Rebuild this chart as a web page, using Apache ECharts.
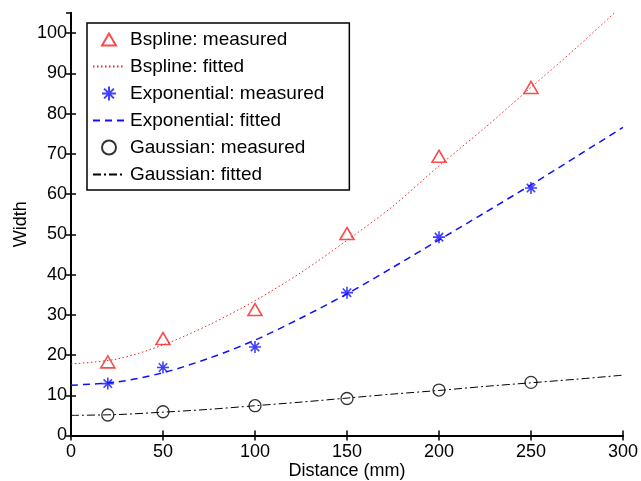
<!DOCTYPE html>
<html>
<head>
<meta charset="utf-8">
<script src="https://cdn.jsdelivr.net/npm/echarts@6/dist/echarts.min.js"></script>
<style>
html,body{margin:0;padding:0;background:#fff;}
#chart{width:641px;height:481px;}
</style>
</head>
<body>
<div id="chart"></div>
<script>
// ---- data ----
const xMeasured = [20, 50, 100, 150, 200, 250];
const bsplineMeasured = [18.3, 24.1, 31.3, 50.2, 69.4, 86.5];
const expMeasured = [12.9, 16.9, 22.0, 35.5, 49.3, 61.5];
const gaussMeasured = [5.1, 5.9, 7.4, 9.2, 11.3, 13.2];

const xFitted = [0, 25, 50, 75, 100, 125, 150, 175, 200, 225, 250, 275, 300];
const bsplineFitted = [17.8, 19.0, 22.5, 27.5, 33.5, 40.5, 48.5, 57.0, 67.0, 76.5, 86.5, 96.5, 107.0];
const expFitted = [12.5, 13.3, 15.6, 19.2, 23.7, 29.2, 35.2, 41.8, 48.6, 55.4, 62.3, 69.4, 76.6];
const gaussFitted = [5.0, 5.2, 5.8, 6.5, 7.4, 8.3, 9.3, 10.3, 11.2, 12.2, 13.1, 14.0, 15.0];

const seriesNames = ['Bspline: measured', 'Bspline: fitted', 'Exponential: measured',
  'Exponential: fitted', 'Gaussian: measured', 'Gaussian: fitted'];
const xTicks = [0, 50, 100, 150, 200, 250, 300];
const yTicks = [0, 10, 20, 30, 40, 50, 60, 70, 80, 90, 100];
const xTitle = 'Distance (mm)';
const yTitle = 'Width';

function pairs(xs, ys) { return xs.map((x, i) => [x, ys[i]]); }

const FONT = 'Liberation Sans, Arial, sans-serif';
const RED = '#f52020', BLUE = '#1010ff', BLACK = '#000000';
const asterisk = 'path://M0,-10L0,10M-10,0L10,0M-7,-7L7,7M-7,7L7,-7';
const triangle = 'path://M0,-1M0,13M0,0L7,12L-7,12Z';

const chart = echarts.init(document.getElementById('chart'), null, {renderer: 'canvas'});

const axisLineStyle = {color: '#000', width: 2};
const tickStyle = {show: true, inside: true, length: 5, lineStyle: {color: '#000', width: 1.5}};
chart.setOption({
  animation: false,
  backgroundColor: '#fff',
  textStyle: {fontFamily: FONT},
  grid: {left: 71, right: 18, top: 13, bottom: 45.5, containLabel: false, outerBoundsMode: 'none'},
  xAxis: [{
    type: 'value', min: xTicks[0], max: xTicks[xTicks.length - 1], interval: 50,
    position: 'bottom',
    name: xTitle, nameLocation: 'middle', nameGap: 27, nameMoveOverlap: false,
    nameTextStyle: {fontSize: 18, color: '#000', fontFamily: FONT},
    axisLine: {show: true, lineStyle: axisLineStyle},
    axisTick: tickStyle,
    axisLabel: {fontSize: 18, color: '#000', margin: 8, fontFamily: FONT},
    splitLine: {show: false}
  }, {
    type: 'value', min: xTicks[0], max: xTicks[xTicks.length - 1], interval: 50,
    position: 'top',
    axisLine: {show: true, lineStyle: axisLineStyle},
    axisTick: tickStyle,
    axisLabel: {show: false},
    splitLine: {show: false}
  }],
  yAxis: [{
    type: 'value', min: 0, max: 105, interval: 10,
    position: 'left',
    name: yTitle, nameLocation: 'middle', nameGap: 41, nameMoveOverlap: false,
    nameTextStyle: {fontSize: 18, color: '#000', fontFamily: FONT},
    axisLine: {show: true, lineStyle: axisLineStyle},
    axisTick: tickStyle,
    axisLabel: {fontSize: 18, color: '#000', margin: 4, fontFamily: FONT, showMaxLabel: false,
      formatter: v => (yTicks.indexOf(v) >= 0 ? String(v) : '')},
    splitLine: {show: false}
  }, {
    type: 'value', min: 0, max: 105, interval: 10,
    position: 'right',
    axisLine: {show: true, lineStyle: axisLineStyle},
    axisTick: tickStyle,
    axisLabel: {show: false},
    splitLine: {show: false}
  }],
  legend: {
    orient: 'vertical', left: 87, top: 23,
    data: [
      {name: seriesNames[0]},
      {name: seriesNames[1], itemStyle: {opacity: 0}},
      {name: seriesNames[2]},
      {name: seriesNames[3], itemStyle: {opacity: 0}},
      {name: seriesNames[4]},
      {name: seriesNames[5], itemStyle: {opacity: 0}}
    ],
    backgroundColor: '#fff', borderColor: '#000', borderWidth: 1.5,
    padding: [7, 25, 6, 5],
    itemWidth: 32, itemHeight: 14, itemGap: 8,
    textStyle: {fontSize: 19, color: '#000', fontFamily: FONT},
    z: 10
  },
  series: [
    {
      name: seriesNames[1], type: 'line', data: pairs(xFitted, bsplineFitted),
      showSymbol: false, symbol: 'none', smooth: 0.3, clip: true,
      lineStyle: {color: RED, width: 1, type: [1.5, 2.5]}, itemStyle: {color: RED}
    },
    {
      name: seriesNames[3], type: 'line', data: pairs(xFitted, expFitted),
      showSymbol: false, symbol: 'none', smooth: 0.3, clip: true,
      lineStyle: {color: BLUE, width: 1.5, type: [7, 5]}, itemStyle: {color: BLUE}
    },
    {
      name: seriesNames[5], type: 'line', data: pairs(xFitted, gaussFitted),
      showSymbol: false, symbol: 'none', smooth: 0.3, clip: true,
      lineStyle: {color: BLACK, width: 1, type: [8, 3, 2, 3]}, itemStyle: {color: BLACK}
    },
    {
      name: seriesNames[0], type: 'scatter', data: pairs(xMeasured, bsplineMeasured),
      symbol: triangle, symbolSize: 14, symbolKeepAspect: true,
      itemStyle: {color: 'rgba(255,255,255,0)', borderColor: RED, borderWidth: 1.6}
    },
    {
      name: seriesNames[2], type: 'scatter', data: pairs(xMeasured, expMeasured),
      symbol: asterisk, symbolSize: 12, symbolKeepAspect: true,
      itemStyle: {color: 'rgba(255,255,255,0)', borderColor: BLUE, borderWidth: 1.6}
    },
    {
      name: seriesNames[4], type: 'scatter', data: pairs(xMeasured, gaussMeasured),
      symbol: 'circle', symbolSize: 12,
      itemStyle: {color: 'rgba(255,255,255,0)', borderColor: BLACK, borderWidth: 1.3}
    }
  ]
});
</script>
</body>
</html>
